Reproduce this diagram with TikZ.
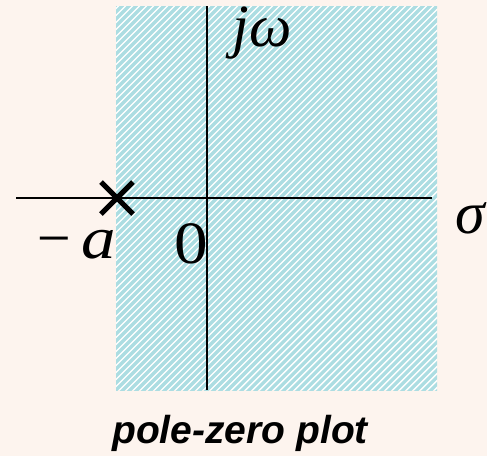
\documentclass[tikz,border=0pt]{standalone}
\usepackage{fontspec}
\setmainfont{Liberation Serif}
\newfontfamily\captionfont{Liberation Sans}
\usetikzlibrary{positioning}

\definecolor{paper}{RGB}{253,244,238}
\definecolor{hatchblue}{RGB}{172,221,226}

\begin{document}
\begin{tikzpicture}[x=1pt, y=-1pt,
  axis/.style={line width=2pt, black},
  hatchline/.style={hatchblue, line width=3.2pt},
  polemark/.style={line width=5pt, black},
  varlabel/.style={font=\fontsize{60}{60}\selectfont\itshape, inner sep=0pt, anchor=base},
  numlabel/.style={font=\fontsize{60}{60}\selectfont, inner sep=0pt, anchor=base},
  caption/.style={font=\fontsize{39}{39}\selectfont\captionfont\bfseries\itshape, inner sep=0pt, anchor=base}
]
\fill[paper] (0,0) rectangle (487,456);
\useasboundingbox (0,0) rectangle (487,456);

% shaded region of convergence
\begin{scope}
  \clip (116,6) rectangle (437,390);
  \fill[white] (116,6) rectangle (437,390);
  \foreach \i in {0,7,...,728}
    \draw[hatchline] (\i-300,400) -- ++(420,-420);
\end{scope}

% axes
\coordinate (origin) at (207,198);
\coordinate (west) at (16,198);
\coordinate (east) at (432,198);
\coordinate (north) at (207,6);
\coordinate (south) at (207,390);
\draw[axis] (west) -- (east);
\draw[axis] (north) -- (south);

% pole at -a
\coordinate (pole) at (117,198);
\draw[polemark] ([shift={(-16,-16)}]pole) -- ([shift={(16,16)}]pole);
\draw[polemark] ([shift={(-16,16)}]pole) -- ([shift={(16,-16)}]pole);

\node[varlabel] (imag) at (262,46) {jω};
\node[varlabel] (real) at (470,233) {σ};
\node[varlabel] (minusa) at (75,258) {−\hspace{8pt}\scalebox{1.15}[1]{a}};
\node[numlabel] (zero) at (191,263) {\scalebox{1.12}[1]{0}};
\node[caption] (title) at (240,443) {pole-zero plot};
\end{tikzpicture}
\end{document}
